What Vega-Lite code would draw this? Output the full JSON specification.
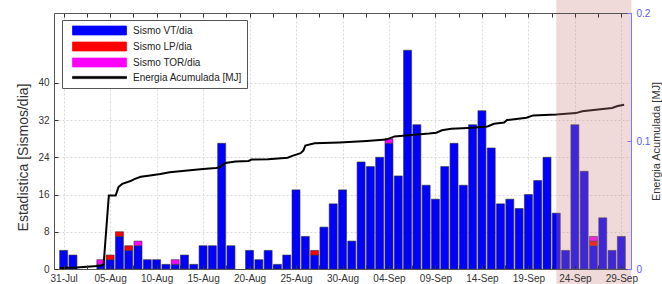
{
  "$schema": "https://vega.github.io/schema/vega-lite/v6.json",
  "width": 577,
  "height": 256,
  "autosize": {"type": "none"},
  "padding": {"left": 54, "top": 13, "right": 31, "bottom": 15},
  "background": "white",
  "config": {
    "font": "Liberation Sans",
    "view": {"stroke": null},
    "axis": {"labelFontSize": 10, "labelColor": "#333333", "titleColor": "#333333", "titleFontWeight": "normal", "domainColor": "#555555", "tickColor": "#333333"}
  },
  "datasets": {
    "orden": [
      {"tipo": "Sismo VT/dia", "o": 1},
      {"tipo": "Sismo LP/dia", "o": 2},
      {"tipo": "Sismo TOR/dia", "o": 3}
    ],
    "sismos": [
      {"fecha": "2023-07-31", "Sismo VT/dia": 4, "Sismo LP/dia": 0, "Sismo TOR/dia": 0},
      {"fecha": "2023-08-01", "Sismo VT/dia": 3, "Sismo LP/dia": 0, "Sismo TOR/dia": 0},
      {"fecha": "2023-08-02", "Sismo VT/dia": 0, "Sismo LP/dia": 0, "Sismo TOR/dia": 0},
      {"fecha": "2023-08-03", "Sismo VT/dia": 0, "Sismo LP/dia": 0, "Sismo TOR/dia": 0},
      {"fecha": "2023-08-04", "Sismo VT/dia": 1, "Sismo LP/dia": 0, "Sismo TOR/dia": 1},
      {"fecha": "2023-08-05", "Sismo VT/dia": 2, "Sismo LP/dia": 1, "Sismo TOR/dia": 0},
      {"fecha": "2023-08-06", "Sismo VT/dia": 7, "Sismo LP/dia": 1, "Sismo TOR/dia": 0},
      {"fecha": "2023-08-07", "Sismo VT/dia": 4, "Sismo LP/dia": 1, "Sismo TOR/dia": 0},
      {"fecha": "2023-08-08", "Sismo VT/dia": 5, "Sismo LP/dia": 0, "Sismo TOR/dia": 1},
      {"fecha": "2023-08-09", "Sismo VT/dia": 2, "Sismo LP/dia": 0, "Sismo TOR/dia": 0},
      {"fecha": "2023-08-10", "Sismo VT/dia": 2, "Sismo LP/dia": 0, "Sismo TOR/dia": 0},
      {"fecha": "2023-08-11", "Sismo VT/dia": 1, "Sismo LP/dia": 0, "Sismo TOR/dia": 0},
      {"fecha": "2023-08-12", "Sismo VT/dia": 1, "Sismo LP/dia": 0, "Sismo TOR/dia": 1},
      {"fecha": "2023-08-13", "Sismo VT/dia": 3, "Sismo LP/dia": 0, "Sismo TOR/dia": 0},
      {"fecha": "2023-08-14", "Sismo VT/dia": 1, "Sismo LP/dia": 0, "Sismo TOR/dia": 0},
      {"fecha": "2023-08-15", "Sismo VT/dia": 5, "Sismo LP/dia": 0, "Sismo TOR/dia": 0},
      {"fecha": "2023-08-16", "Sismo VT/dia": 5, "Sismo LP/dia": 0, "Sismo TOR/dia": 0},
      {"fecha": "2023-08-17", "Sismo VT/dia": 27, "Sismo LP/dia": 0, "Sismo TOR/dia": 0},
      {"fecha": "2023-08-18", "Sismo VT/dia": 5, "Sismo LP/dia": 0, "Sismo TOR/dia": 0},
      {"fecha": "2023-08-19", "Sismo VT/dia": 0, "Sismo LP/dia": 0, "Sismo TOR/dia": 0},
      {"fecha": "2023-08-20", "Sismo VT/dia": 4, "Sismo LP/dia": 0, "Sismo TOR/dia": 0},
      {"fecha": "2023-08-21", "Sismo VT/dia": 2, "Sismo LP/dia": 0, "Sismo TOR/dia": 0},
      {"fecha": "2023-08-22", "Sismo VT/dia": 4, "Sismo LP/dia": 0, "Sismo TOR/dia": 0},
      {"fecha": "2023-08-23", "Sismo VT/dia": 1, "Sismo LP/dia": 0, "Sismo TOR/dia": 0},
      {"fecha": "2023-08-24", "Sismo VT/dia": 3, "Sismo LP/dia": 0, "Sismo TOR/dia": 0},
      {"fecha": "2023-08-25", "Sismo VT/dia": 17, "Sismo LP/dia": 0, "Sismo TOR/dia": 0},
      {"fecha": "2023-08-26", "Sismo VT/dia": 7, "Sismo LP/dia": 0, "Sismo TOR/dia": 0},
      {"fecha": "2023-08-27", "Sismo VT/dia": 3, "Sismo LP/dia": 1, "Sismo TOR/dia": 0},
      {"fecha": "2023-08-28", "Sismo VT/dia": 9, "Sismo LP/dia": 0, "Sismo TOR/dia": 0},
      {"fecha": "2023-08-29", "Sismo VT/dia": 14, "Sismo LP/dia": 0, "Sismo TOR/dia": 0},
      {"fecha": "2023-08-30", "Sismo VT/dia": 17, "Sismo LP/dia": 0, "Sismo TOR/dia": 0},
      {"fecha": "2023-08-31", "Sismo VT/dia": 6, "Sismo LP/dia": 0, "Sismo TOR/dia": 0},
      {"fecha": "2023-09-01", "Sismo VT/dia": 23, "Sismo LP/dia": 0, "Sismo TOR/dia": 0},
      {"fecha": "2023-09-02", "Sismo VT/dia": 22, "Sismo LP/dia": 0, "Sismo TOR/dia": 0},
      {"fecha": "2023-09-03", "Sismo VT/dia": 24, "Sismo LP/dia": 0, "Sismo TOR/dia": 0},
      {"fecha": "2023-09-04", "Sismo VT/dia": 27, "Sismo LP/dia": 0, "Sismo TOR/dia": 1},
      {"fecha": "2023-09-05", "Sismo VT/dia": 20, "Sismo LP/dia": 0, "Sismo TOR/dia": 0},
      {"fecha": "2023-09-06", "Sismo VT/dia": 47, "Sismo LP/dia": 0, "Sismo TOR/dia": 0},
      {"fecha": "2023-09-07", "Sismo VT/dia": 31, "Sismo LP/dia": 0, "Sismo TOR/dia": 0},
      {"fecha": "2023-09-08", "Sismo VT/dia": 18, "Sismo LP/dia": 0, "Sismo TOR/dia": 0},
      {"fecha": "2023-09-09", "Sismo VT/dia": 15, "Sismo LP/dia": 0, "Sismo TOR/dia": 0},
      {"fecha": "2023-09-10", "Sismo VT/dia": 22, "Sismo LP/dia": 0, "Sismo TOR/dia": 0},
      {"fecha": "2023-09-11", "Sismo VT/dia": 27, "Sismo LP/dia": 0, "Sismo TOR/dia": 0},
      {"fecha": "2023-09-12", "Sismo VT/dia": 18, "Sismo LP/dia": 0, "Sismo TOR/dia": 0},
      {"fecha": "2023-09-13", "Sismo VT/dia": 31, "Sismo LP/dia": 0, "Sismo TOR/dia": 0},
      {"fecha": "2023-09-14", "Sismo VT/dia": 34, "Sismo LP/dia": 0, "Sismo TOR/dia": 0},
      {"fecha": "2023-09-15", "Sismo VT/dia": 26, "Sismo LP/dia": 0, "Sismo TOR/dia": 0},
      {"fecha": "2023-09-16", "Sismo VT/dia": 14, "Sismo LP/dia": 0, "Sismo TOR/dia": 0},
      {"fecha": "2023-09-17", "Sismo VT/dia": 15, "Sismo LP/dia": 0, "Sismo TOR/dia": 0},
      {"fecha": "2023-09-18", "Sismo VT/dia": 13, "Sismo LP/dia": 0, "Sismo TOR/dia": 0},
      {"fecha": "2023-09-19", "Sismo VT/dia": 16, "Sismo LP/dia": 0, "Sismo TOR/dia": 0},
      {"fecha": "2023-09-20", "Sismo VT/dia": 19, "Sismo LP/dia": 0, "Sismo TOR/dia": 0},
      {"fecha": "2023-09-21", "Sismo VT/dia": 24, "Sismo LP/dia": 0, "Sismo TOR/dia": 0},
      {"fecha": "2023-09-22", "Sismo VT/dia": 12, "Sismo LP/dia": 0, "Sismo TOR/dia": 0},
      {"fecha": "2023-09-23", "Sismo VT/dia": 4, "Sismo LP/dia": 0, "Sismo TOR/dia": 0},
      {"fecha": "2023-09-24", "Sismo VT/dia": 31, "Sismo LP/dia": 0, "Sismo TOR/dia": 0},
      {"fecha": "2023-09-25", "Sismo VT/dia": 21, "Sismo LP/dia": 0, "Sismo TOR/dia": 0},
      {"fecha": "2023-09-26", "Sismo VT/dia": 5, "Sismo LP/dia": 1, "Sismo TOR/dia": 1},
      {"fecha": "2023-09-27", "Sismo VT/dia": 11, "Sismo LP/dia": 0, "Sismo TOR/dia": 0},
      {"fecha": "2023-09-28", "Sismo VT/dia": 4, "Sismo LP/dia": 0, "Sismo TOR/dia": 0},
      {"fecha": "2023-09-29", "Sismo VT/dia": 7, "Sismo LP/dia": 0, "Sismo TOR/dia": 0}
    ],
    "energia": [
      {"t": "2023-07-30T14:24Z", "e": 0.0007},
      {"t": "2023-08-01T09:36Z", "e": 0.0011},
      {"t": "2023-08-02T12:00Z", "e": 0.0018},
      {"t": "2023-08-04T01:12Z", "e": 0.0025},
      {"t": "2023-08-04T07:12Z", "e": 0.0036},
      {"t": "2023-08-04T20:40Z", "e": 0.0575},
      {"t": "2023-08-05T14:24Z", "e": 0.0575},
      {"t": "2023-08-05T21:36Z", "e": 0.0640},
      {"t": "2023-08-06T07:12Z", "e": 0.0665},
      {"t": "2023-08-07T04:48Z", "e": 0.0687},
      {"t": "2023-08-07T14:24Z", "e": 0.0702},
      {"t": "2023-08-08T07:12Z", "e": 0.0720},
      {"t": "2023-08-09T07:12Z", "e": 0.0731},
      {"t": "2023-08-10T09:36Z", "e": 0.0742},
      {"t": "2023-08-11T09:36Z", "e": 0.0756},
      {"t": "2023-08-12T12:00Z", "e": 0.0764},
      {"t": "2023-08-13T14:24Z", "e": 0.0771},
      {"t": "2023-08-15T00:00Z", "e": 0.0782},
      {"t": "2023-08-16T09:36Z", "e": 0.0789},
      {"t": "2023-08-16T16:48Z", "e": 0.0793},
      {"t": "2023-08-17T09:36Z", "e": 0.0829},
      {"t": "2023-08-18T12:00Z", "e": 0.0840},
      {"t": "2023-08-19T21:36Z", "e": 0.0844},
      {"t": "2023-08-20T04:48Z", "e": 0.0855},
      {"t": "2023-08-22T00:00Z", "e": 0.0858},
      {"t": "2023-08-24T02:24Z", "e": 0.0869},
      {"t": "2023-08-24T14:24Z", "e": 0.0884},
      {"t": "2023-08-25T12:00Z", "e": 0.0905},
      {"t": "2023-08-25T19:12Z", "e": 0.0927},
      {"t": "2023-08-26T00:00Z", "e": 0.0964},
      {"t": "2023-08-27T00:00Z", "e": 0.0982},
      {"t": "2023-08-29T16:48Z", "e": 0.0989},
      {"t": "2023-09-01T14:24Z", "e": 0.1000},
      {"t": "2023-09-03T16:48Z", "e": 0.1011},
      {"t": "2023-09-04T14:24Z", "e": 0.1036},
      {"t": "2023-09-06T02:24Z", "e": 0.1044},
      {"t": "2023-09-08T07:12Z", "e": 0.1058},
      {"t": "2023-09-09T02:24Z", "e": 0.1065},
      {"t": "2023-09-09T16:48Z", "e": 0.1084},
      {"t": "2023-09-10T16:48Z", "e": 0.1095},
      {"t": "2023-09-12T12:00Z", "e": 0.1102},
      {"t": "2023-09-14T14:24Z", "e": 0.1113},
      {"t": "2023-09-15T07:12Z", "e": 0.1135},
      {"t": "2023-09-16T09:36Z", "e": 0.1145},
      {"t": "2023-09-16T16:48Z", "e": 0.1164},
      {"t": "2023-09-18T19:12Z", "e": 0.1182},
      {"t": "2023-09-19T12:00Z", "e": 0.1200},
      {"t": "2023-09-22T00:00Z", "e": 0.1207},
      {"t": "2023-09-24T02:24Z", "e": 0.1218},
      {"t": "2023-09-24T19:12Z", "e": 0.1233},
      {"t": "2023-09-26T12:00Z", "e": 0.1247},
      {"t": "2023-09-28T00:00Z", "e": 0.1258},
      {"t": "2023-09-28T14:24Z", "e": 0.1273},
      {"t": "2023-09-29T07:12Z", "e": 0.1284}
    ]
  },
  "layer": [
    {
      "data": {"name": "sismos"},
      "transform": [
        {"fold": ["Sismo VT/dia", "Sismo LP/dia", "Sismo TOR/dia"], "as": ["tipo", "n"]},
        {"filter": "datum.n > 0"},
        {"lookup": "tipo", "from": {"data": {"name": "orden"}, "key": "tipo", "fields": ["o"]}}
      ],
      "mark": {"type": "bar", "width": 8, "stroke": "#333333", "strokeWidth": 0.6},
      "encoding": {
        "x": {
          "field": "fecha", "type": "temporal",
          "scale": {"type": "utc", "domain": [1690718400000, 1695988800000]},
          "axis": {
            "orient": "bottom", "title": null, "grid": false, "zindex": 1,
            "values": [1690761600000, 1690977600000, 1691193600000, 1691409600000, 1691625600000, 1691841600000, 1692057600000, 1692273600000, 1692489600000, 1692705600000, 1692921600000, 1693137600000, 1693353600000, 1693569600000, 1693785600000, 1694001600000, 1694217600000, 1694433600000, 1694649600000, 1694865600000, 1695081600000, 1695297600000, 1695513600000, 1695729600000, 1695945600000],
            "labelExpr": "utchours(datum.value) == 0 ? utcFormat(datum.value, '%d-%b') : ''",
            "tickSize": -4, "labelPadding": 8, "labelFlush": false, "labelOverlap": false
          }
        },
        "y": {
          "field": "n", "type": "quantitative", "stack": "zero",
          "scale": {"domain": [0, 55], "nice": false},
          "axis": {
            "orient": "left", "values": [0, 8, 16, 24, 32, 40], "grid": false, "zindex": 1,
            "tickSize": -4, "labelPadding": 9,
            "title": "Estadistica [Sismos/dia]", "titleFontSize": 14,
            "titleAngle": 270, "titleX": -31, "titleY": 144, "titleAlign": "center", "titleBaseline": "middle"
          }
        },
        "color": {
          "field": "tipo", "type": "nominal",
          "scale": {"domain": ["Sismo VT/dia", "Sismo LP/dia", "Sismo TOR/dia", "Energia Acumulada [MJ]"], "range": ["#0000ff", "#ff0000", "#ff00ff", "#000000"]},
          "legend": {
            "orient": "none", "legendX": 8, "legendY": 7, "title": null, "direction": "vertical",
            "fillColor": "white", "strokeColor": "#555555", "padding": 5,
            "labelFontSize": 10, "labelColor": "#222222", "labelOffset": 55, "rowPadding": 3,
            "symbolSize": 100, "symbolStrokeColor": "#333333", "symbolStrokeWidth": 0.7, "symbolOpacity": 1,
            "encode": {
              "symbols": {
                "update": {
                  "shape": {"signal": "datum.value === 'Energia Acumulada [MJ]' ? 'M0,-0.22H10.8V0.22H0Z' : 'M0,-0.9H10.8V0.9H0Z'"},
                  "fill": {"signal": "scale('color', datum.value)"}
                }
              }
            }
          }
        },
        "order": {"field": "o", "type": "quantitative"}
      }
    },
    {
      "data": {"name": "energia"},
      "mark": {"type": "line", "strokeWidth": 2},
      "encoding": {
        "x": {
          "field": "t", "type": "temporal",
          "axis": {
            "orient": "bottom", "title": null, "labels": false, "ticks": false, "domain": false, "zindex": 0,
            "grid": true, "gridDash": [2, 2], "gridColor": "#cfcfcf", "gridWidth": 0.8,
            "values": [1690761600000, 1691193600000, 1691625600000, 1692057600000, 1692489600000, 1692921600000, 1693353600000, 1693785600000, 1694217600000, 1694649600000, 1695081600000, 1695513600000, 1695945600000]
          }
        },
        "y": {
          "field": "e", "type": "quantitative",
          "scale": {"domain": [0, 0.2], "nice": false},
          "axis": {
            "orient": "right", "values": [0, 0.1, 0.2], "format": "~g", "grid": false, "zindex": 1,
            "tickSize": -4, "labelPadding": 9, "labelColor": "#5a5aff", "domainColor": "#7777ff", "tickColor": "#7777ff",
            "title": "Energia Acumulada [MJ]", "titleFontSize": 11,
            "titleAngle": 270, "titleX": 25, "titleY": 128, "titleAlign": "center", "titleBaseline": "middle"
          }
        },
        "color": {"datum": "Energia Acumulada [MJ]", "type": "nominal"}
      }
    },
    {
      "data": {"values": [{"inicio": "2023-09-22T00:00Z", "fin": "2023-09-30T02:00Z", "y0": -3.5, "y1": 58.5}]},
      "mark": {"type": "rect", "color": "#cc8080", "opacity": 0.3, "clip": false},
      "encoding": {
        "x": {
          "field": "inicio", "type": "temporal",
          "axis": {
            "orient": "top", "title": null, "labels": false, "grid": false, "zindex": 1, "tickSize": -4,
            "values": [1690761600000, 1690977600000, 1691193600000, 1691409600000, 1691625600000, 1691841600000, 1692057600000, 1692273600000, 1692489600000, 1692705600000, 1692921600000, 1693137600000, 1693353600000, 1693569600000, 1693785600000, 1694001600000, 1694217600000, 1694433600000, 1694649600000, 1694865600000, 1695081600000, 1695297600000, 1695513600000, 1695729600000, 1695945600000]
          }
        },
        "x2": {"field": "fin"},
        "y": {
          "field": "y0", "type": "quantitative",
          "scale": {"domain": [0, 55], "nice": false},
          "axis": {
            "orient": "left", "title": null, "labels": false, "ticks": false, "domain": false, "zindex": 0,
            "grid": true, "gridDash": [2, 2], "gridColor": "#cfcfcf", "gridWidth": 0.8,
            "values": [8, 16, 24, 32, 40]
          }
        },
        "y2": {"field": "y1"}
      }
    }
  ],
  "resolve": {"scale": {"y": "independent"}, "axis": {"x": "independent", "y": "independent"}}
}
